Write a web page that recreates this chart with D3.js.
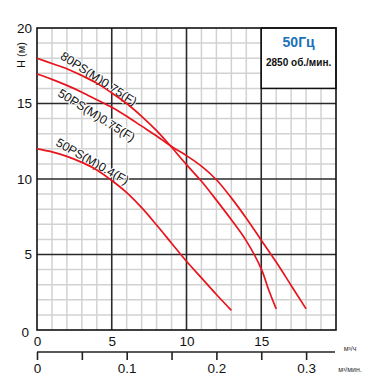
<!DOCTYPE html>
<html>
<head>
<meta charset="utf-8">
<script src="https://d3js.org/d3.v7.min.js"></script>
<style>
    body { margin: 0; background: #fff; }
    text { font-family: "Liberation Sans", Arial, sans-serif; }
</style>
</head>
<body>
<script>
// flow in m3/h, head in m
var curveNames = ["80PS(M)0.75(F)", "50PS(M)0.75(F)", "50PS(M)0.4(F)"];
var flow80_075 = [0, 1, 2, 3, 4, 5, 6, 7, 8, 9, 10, 11, 12, 13, 14, 15, 15.5, 16];
var head80_075 = [18.0, 17.65, 17.3, 16.85, 16.35, 15.7, 15.0, 14.15, 13.2, 12.1, 10.95, 9.85, 8.6, 7.3, 5.9, 4.05, 2.65, 1.4];
var flow50_075 = [0, 1, 2, 3, 4, 5, 6, 7, 8, 9, 10, 11, 12, 13, 14, 15, 16, 17, 18];
var head50_075 = [16.95, 16.6, 16.2, 15.75, 15.25, 14.75, 14.15, 13.5, 12.85, 12.15, 11.55, 10.85, 9.95, 8.75, 7.4, 5.95, 4.5, 2.95, 1.4];
var flow50_04 = [0, 1, 2, 3, 4, 5, 6, 7, 8, 9, 10, 11, 12, 13];
var head50_04 = [12.0, 11.8, 11.5, 11.1, 10.6, 9.9, 9.1, 8.1, 6.95, 5.75, 4.55, 3.45, 2.35, 1.3];

var headTicks = [0, 5, 10, 15, 20];
var flowTicks = [0, 5, 10, 15];
var minuteTicks = [0, 0.05, 0.1, 0.15, 0.2, 0.25, 0.3];
var minuteLabels = ["0", "0.1", "0.2", "0.3"];
var freqText = "50Гц";
var speedText = "2850 об./мин.";

var width = 386, height = 389;
var margin = {left: 37, right: 50, top: 28, bottom: 59};

var xScale = d3.scaleLinear().domain([0, 20]).range([margin.left, width - margin.right]);
var yScale = d3.scaleLinear().domain([0, 20]).range([height - margin.bottom, margin.top]);
var mScale = d3.scaleLinear().domain([0, 20 / 60]).range([margin.left, width - margin.right]);

var svg = d3.select("body").append("svg")
    .attr("width", width)
    .attr("height", height);

// grid: light lines every unit, dark every 5
var grid = svg.append("g").attr("class", "grid");
var minor = d3.range(1, 20).filter(function (v) { return v % 5 !== 0; });
var major = [5, 10, 15];
[minor, major].forEach(function (vals, k) {
    var color = k === 0 ? "#d2d2d2" : "#2a2a2a";
    var sw = k === 0 ? 1.5 : 1.6;
    vals.forEach(function (v) {
        grid.append("line")
            .attr("x1", xScale(v)).attr("x2", xScale(v))
            .attr("y1", yScale(0)).attr("y2", yScale(20))
            .attr("stroke", color).attr("stroke-width", sw);
        grid.append("line")
            .attr("x1", xScale(0)).attr("x2", xScale(20))
            .attr("y1", yScale(v)).attr("y2", yScale(v))
            .attr("stroke", color).attr("stroke-width", sw);
    });
});

// legend box (top right)
svg.append("rect")
    .attr("x", xScale(15)).attr("y", yScale(20))
    .attr("width", xScale(20) - xScale(15))
    .attr("height", yScale(16) - yScale(20))
    .attr("fill", "#fff")
    .attr("stroke", "#111")
    .attr("stroke-width", 1.5);
svg.append("text")
    .attr("x", (xScale(15) + xScale(20)) / 2)
    .attr("y", 47)
    .attr("text-anchor", "middle")
    .attr("font-size", 14)
    .attr("font-weight", "bold")
    .attr("fill", "#1b72b8")
    .text(freqText);
svg.append("text")
    .attr("x", (xScale(15) + xScale(20)) / 2)
    .attr("y", 66)
    .attr("text-anchor", "middle")
    .attr("font-size", 10)
    .attr("font-weight", "bold")
    .attr("fill", "#111")
    .text(speedText);

// frame
svg.append("rect")
    .attr("x", xScale(0)).attr("y", yScale(20))
    .attr("width", xScale(20) - xScale(0))
    .attr("height", yScale(0) - yScale(20))
    .attr("fill", "none")
    .attr("stroke", "#111")
    .attr("stroke-width", 1.6);

// curve labels (drawn under the curves, with a thin white halo)
var labelSpots = [
    {x: 1.5, y: 18.0, angle: 33},
    {x: 1.34, y: 15.53, angle: 32},
    {x: 1.2, y: 12.25, angle: 29.5}
];
svg.append("g").selectAll("text")
    .data(curveNames)
    .enter().append("text")
    .attr("transform", function (d, i) {
        var s = labelSpots[i];
        return "translate(" + xScale(s.x) + "," + yScale(s.y) + ")rotate(" + s.angle + ")";
    })
    .attr("font-size", 12.3)
    .attr("fill", "#111")
    .attr("stroke", "#fff")
    .attr("stroke-width", 2)
    .attr("paint-order", "stroke")
    .text(function (d) { return d; });

// curves
var line = d3.line()
    .x(function (d) { return xScale(d[0]); })
    .y(function (d) { return yScale(d[1]); })
    .curve(d3.curveCatmullRom);

var curves = [
    d3.zip(flow80_075, head80_075),
    d3.zip(flow50_075, head50_075),
    d3.zip(flow50_04, head50_04)
];
svg.append("g").selectAll("path")
    .data(curves)
    .enter().append("path")
    .attr("d", line)
    .attr("fill", "none")
    .attr("stroke", "#e8141c")
    .attr("stroke-width", 1.7);

// y axis
var yAxis = svg.append("g")
    .attr("transform", "translate(" + xScale(0) + ",0)")
    .call(d3.axisLeft(yScale).tickValues(headTicks).tickSize(0).tickPadding(5));
yAxis.select(".domain").remove();
yAxis.selectAll("text")
    .attr("font-size", 13.5)
    .attr("fill", "#111")
    .attr("font-family", null);
yAxis.selectAll(".tick").filter(function (d) { return d === 0; })
    .select("text").attr("x", -8).attr("dy", "0.45em");

svg.append("text")
    .attr("transform", "translate(25,55)rotate(-90)")
    .attr("text-anchor", "middle")
    .attr("font-size", 11)
    .attr("fill", "#111")
    .text("H (м)");

// x axis m3/h
var xAxis = svg.append("g")
    .attr("transform", "translate(0," + yScale(0) + ")")
    .call(d3.axisBottom(xScale).tickValues(flowTicks).tickSize(0).tickPadding(6));
xAxis.select(".domain").remove();
xAxis.selectAll("text")
    .attr("font-size", 13.5)
    .attr("fill", "#111")
    .attr("font-family", null);

// second axis m3/min
var axisY2 = 352;
var mAxis = svg.append("g")
    .attr("transform", "translate(0," + axisY2 + ")")
    .call(d3.axisBottom(mScale).tickValues(minuteTicks).tickSizeInner(8).tickSizeOuter(0).tickPadding(3)
        .tickFormat(function (d) {
            var s = d === 0 ? "0" : d3.format(".1f")(d);
            return minuteLabels.indexOf(s) >= 0 && Math.abs(d * 10 - Math.round(d * 10)) < 1e-9 ? s : "";
        }));
mAxis.select(".domain")
    .attr("stroke", "#222")
    .attr("stroke-width", 1.6)
    .attr("d", "M" + mScale(0) + ",0H" + (mScale(20 / 60) - 1));
mAxis.selectAll(".tick line").attr("stroke", "#222").attr("stroke-width", 1.6);
mAxis.selectAll("text")
    .attr("font-size", 13.5)
    .attr("fill", "#111")
    .attr("font-family", null);

svg.append("text")
    .attr("x", 350).attr("y", 351)
    .attr("text-anchor", "middle")
    .attr("font-size", 7)
    .attr("fill", "#333")
    .text("м³/ч");
svg.append("text")
    .attr("x", 350).attr("y", 372)
    .attr("text-anchor", "middle")
    .attr("font-size", 7)
    .attr("fill", "#333")
    .text("м³/мин.");
</script>
</body>
</html>
